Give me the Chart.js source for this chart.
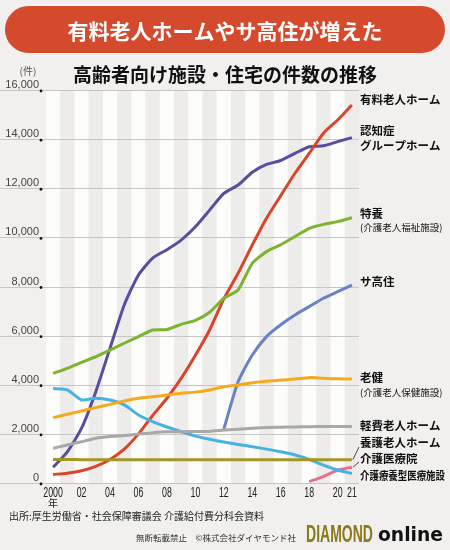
<!DOCTYPE html>
<html>
<head>
<meta charset="utf-8">
<script src="https://cdn.jsdelivr.net/npm/chart.js@4"></script>
<style>
  html, body { margin: 0; padding: 0; background: #f1f0ee; }
  canvas { display: block; }
</style>
</head>
<body>
<canvas id="chart" width="450" height="550"></canvas>
<script>
// years 2000 .. 2021
const years = [2000, 2001, 2002, 2003, 2004, 2005, 2006, 2007, 2008, 2009, 2010,
               2011, 2012, 2013, 2014, 2015, 2016, 2017, 2018, 2019, 2020, 2021];

const yuryo     = [350, 400, 500, 680, 960, 1380, 2000, 2750, 3450, 4260, 5200, 6230, 7500, 8540, 9690, 10780, 11700, 12610, 13420, 14240, 14780, 15390];
const ninchisho = [640, 1270, 2230, 3720, 5490, 7250, 8470, 9160, 9500, 9890, 10430, 11110, 11790, 12130, 12650, 12970, 13130, 13420, 13690, 13730, 13900, 14060];
const tokuyo    = [4460, 4670, 4910, 5140, 5410, 5690, 5960, 6230, 6250, 6460, 6620, 6950, 7520, 7860, 8940, 9420, 9700, 10030, 10370, 10530, 10640, 10800];
const sakoju    = [null, null, null, null, null, null, null, null, null, null, null, null, 2200, 4120, 5210, 5960, 6440, 6840, 7180, 7520, 7790, 8060];
const roken     = [2660, 2800, 2930, 3070, 3200, 3340, 3450, 3510, 3580, 3650, 3700, 3790, 3920, 3990, 4080, 4140, 4190, 4230, 4290, 4260, 4240, 4230];
const keihi     = [1410, 1550, 1680, 1820, 1890, 1930, 1990, 2050, 2090, 2090, 2100, 2100, 2160, 2190, 2230, 2260, 2270, 2280, 2290, 2300, 2300, 2300];
const yogo      = [960, 960, 950, 950, 950, 950, 950, 950, 950, 950, 950, 950, 950, 950, 950, 950, 950, 950, 950, 950, 950, 950];
const iryoin    = [null, null, null, null, null, null, null, null, null, null, null, null, null, null, null, null, null, null, 60, 260, 530, 640];
const ryoyo     = [3850, 3790, 3380, 3450, 3380, 3180, 2770, 2500, 2280, 2090, 1910, 1780, 1670, 1570, 1480, 1380, 1270, 1140, 960, 730, 530, 390];

const yTicks = [0, 2000, 4000, 6000, 8000, 10000, 12000, 14000, 16000];
const xTickYears = [2000, 2002, 2004, 2006, 2008, 2010, 2012, 2014, 2016, 2018, 2020, 2021];
const xTickLabels = ['2000', '02', '04', '06', '08', '10', '12', '14', '16', '18', '20', '21'];

const JP = '"Noto Sans CJK JP", sans-serif';

function pts(arr) {
    return years.map((yr, i) => ({ x: yr, y: arr[i] }));
}

function line(data, color) {
    return {
        data: pts(data),
        borderColor: color,
        borderWidth: 3,
        pointRadius: 0,
        tension: 0.2,
        fill: false
    };
}

function roundRect(ctx, x, y, w, h, r) {
    ctx.beginPath();
    ctx.moveTo(x + r, y);
    ctx.lineTo(x + w - r, y);
    ctx.arc(x + w - r, y + r, r, -Math.PI / 2, Math.PI / 2);
    ctx.lineTo(x + r, y + h);
    ctx.arc(x + r, y + r, r, Math.PI / 2, Math.PI * 1.5);
    ctx.closePath();
}

const decor = {
    id: 'decor',
    beforeDraw(chart) {
        const ctx = chart.ctx;
        const xs = chart.scales.x, ys = chart.scales.y;
        const area = chart.chartArea;
        ctx.save();
        ctx.fillStyle = '#f1f0ee';
        ctx.fillRect(0, 0, chart.width, chart.height);

        // banner
        ctx.fillStyle = '#d54a2d';
        roundRect(ctx, 5, 6, 440, 47, 23.5);
        ctx.fill();
        ctx.fillStyle = '#ffffff';
        ctx.font = 'bold 21px ' + JP;
        ctx.textAlign = 'center';
        ctx.textBaseline = 'middle';
        ctx.fillText('有料老人ホームやサ高住が増えた', 225, 31);

        // subtitle
        ctx.fillStyle = '#111';
        ctx.font = 'bold 19px ' + JP;
        ctx.fillText('高齢者向け施設・住宅の件数の推移', 225, 75);

        // year stripes
        years.forEach(yr => {
            const l = xs.getPixelForValue(yr - 0.5);
            const r = xs.getPixelForValue(yr + 0.5);
            ctx.fillStyle = yr % 2 === 0 ? '#fcfcfb' : '#edecea';
            ctx.fillRect(l, area.top, r - l, area.bottom - area.top);
        });

        // horizontal grid
        ctx.strokeStyle = '#c8c6c2';
        ctx.lineWidth = 1;
        yTicks.forEach(v => {
            const y = Math.round(ys.getPixelForValue(v)) + 0.5;
            ctx.beginPath();
            ctx.moveTo(0, y);
            ctx.lineTo(area.right, y);
            ctx.stroke();
        });
        ctx.restore();
    },
    afterDraw(chart) {
        const ctx = chart.ctx;
        const xs = chart.scales.x, ys = chart.scales.y;
        ctx.save();

        // y tick labels and dots
        ctx.font = '11px "Liberation Sans", sans-serif';
        ctx.textAlign = 'right';
        ctx.textBaseline = 'alphabetic';
        yTicks.forEach(v => {
            const y = ys.getPixelForValue(v);
            ctx.fillStyle = '#444';
            ctx.fillText(v.toLocaleString('en-US'), 39, y - 2);
            ctx.fillStyle = '#111';
            ctx.beginPath();
            ctx.arc(41, y + 1, 1.4, 0, Math.PI * 2);
            ctx.fill();
        });
        ctx.fillStyle = '#555';
        ctx.font = '10px ' + JP;
        ctx.textAlign = 'center';
        ctx.textBaseline = 'middle';
        ctx.fillText('(件)', 28, 71);

        // x tick labels
        ctx.fillStyle = '#222';
        ctx.font = '14px "Liberation Sans Narrow", sans-serif';
        ctx.textBaseline = 'middle';
        xTickYears.forEach((yr, i) => {
            const t = xTickLabels[i];
            ctx.fillText(t, xs.getPixelForValue(yr), 493, t.length * 4.9);
        });
        ctx.font = '10px ' + JP;
        ctx.fillText('年', xs.getPixelForValue(2000), 503);

        // series labels on the right
        ctx.textAlign = 'left';
        ctx.fillStyle = '#111';
        const lx = 360;
        const big = 'bold 11.5px ' + JP;
        const small = '9.5px ' + JP;
        const labels = [
            ['有料老人ホーム', 100, big, 84],
            ['認知症', 131, big, 84],
            ['グループホーム', 146, big, 84],
            ['特養', 214, big, 84],
            ['(介護老人福祉施設)', 227, small, 84],
            ['サ高住', 282, big, 84],
            ['老健', 378, big, 84],
            ['(介護老人保健施設)', 392, small, 84],
            ['軽費老人ホーム', 426, big, 84],
            ['養護老人ホーム', 443, big, 84],
            ['介護医療院', 459, big, 84],
            ['介護療養型医療施設', 476, big, 85]
        ];
        labels.forEach(([t, y, f, w]) => {
            ctx.font = f;
            ctx.fillText(t, lx, y, w);
        });

        // leader lines
        ctx.strokeStyle = '#222';
        ctx.lineWidth = 0.8;
        ctx.beginPath();
        ctx.moveTo(xs.getPixelForValue(2021) + 1, ys.getPixelForValue(950));
        ctx.lineTo(359, 447);
        ctx.moveTo(xs.getPixelForValue(2021) + 1, ys.getPixelForValue(640));
        ctx.lineTo(359, 462);
        ctx.stroke();

        // footer
        ctx.fillStyle = '#222';
        ctx.font = '10px ' + JP;
        ctx.fillText('出所:厚生労働省・社会保障審議会 介護給付費分科会資料', 9, 516, 260);
        ctx.fillStyle = '#333';
        ctx.font = '8.5px ' + JP;
        ctx.fillText('無断転載禁止　©株式会社ダイヤモンド社', 136, 538, 162);
        ctx.fillStyle = '#8a7a1c';
        ctx.font = 'bold 23px "Liberation Sans Narrow", sans-serif';
        ctx.fillText('DIAMOND', 306, 536, 67);
        ctx.fillStyle = '#111';
        ctx.font = 'bold 20px "DejaVu Sans", sans-serif';
        ctx.fillText('online', 378, 536, 65);
        ctx.restore();
    }
};

new Chart(document.getElementById('chart'), {
    type: 'line',
    data: {
        datasets: [
            line(yogo, '#a39624'),
            line(keihi, '#a8a8a8'),
            line(roken, '#f4a91e'),
            line(ryoyo, '#45b2e2'),
            line(iryoin, '#e7708e'),
            line(sakoju, '#6a82c4'),
            line(tokuyo, '#7cb32f'),
            line(yuryo, '#d9452a'),
            line(ninchisho, '#5a4c9f')
        ]
    },
    options: {
        responsive: false,
        animation: false,
        devicePixelRatio: 1,
        layout: { padding: { left: 46, right: 91, top: 90, bottom: 67 } },
        plugins: { legend: { display: false }, tooltip: { enabled: false } },
        scales: {
            x: { type: 'linear', min: 1999.5, max: 2021.5, display: false },
            y: { min: 0, max: 16000, display: false }
        }
    },
    plugins: [decor]
});
</script>
</body>
</html>
